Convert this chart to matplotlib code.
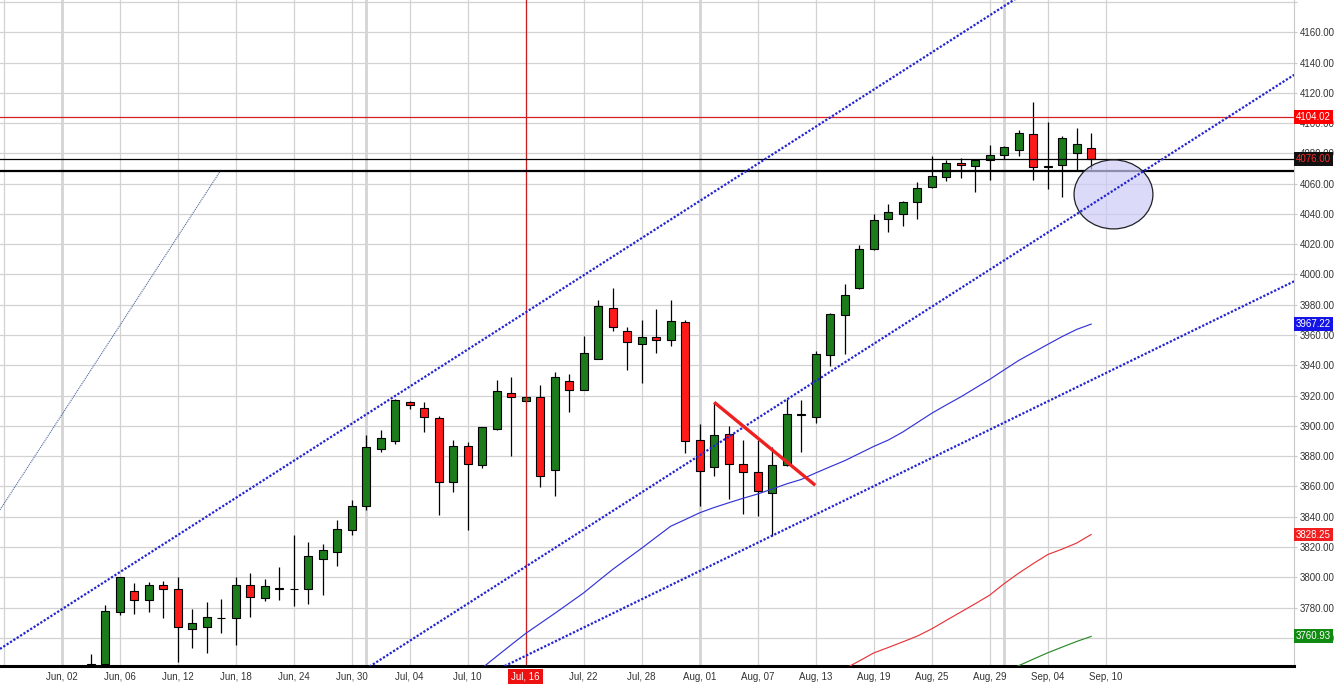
import numpy as np
import pandas as pd
import matplotlib
matplotlib.use("Agg")
import matplotlib.pyplot as plt
import matplotlib.transforms as mtransforms
from matplotlib.patches import Ellipse

plt.rcParams['font.family'] = ['Liberation Sans', 'DejaVu Sans']

# trading days on the axis (weekdays), labels every 4th day
axis_days = pd.bdate_range("2014-06-02", "2014-09-10")
candle_days = pd.bdate_range("2014-06-04", "2014-09-09")

opens = [3741, 3743, 3777, 3791, 3785, 3795, 3792, 3766, 3767, 3773, 3773, 3795, 3786, 3792.5,
         3792, 3792, 3812, 3817, 3831.5, 3847, 3885, 3890, 3915.6, 3912, 3905, 3863, 3886.6, 3874,
         3898, 3922, 3916.3, 3919, 3871, 3929.5, 3924, 3944.5, 3977.7, 3962.5, 3954, 3958.5, 3957,
         3968.5, 3890.5, 3872.7, 3894.5, 3874.7, 3869.4, 3855.5, 3874, 3907.2, 3905.7, 3946.7, 3973,
         3991, 4016.7, 4036.5, 4039.8, 4047.7, 4057.6, 4064.2, 4073.5, 4071.5, 4075.5, 4078.8, 4082,
         4092.6, 4071, 4072.2, 4080, 4083.4]
highs = [3749, 3782, 3800.5, 3796, 3797, 3797.5, 3800, 3779, 3784, 3785.5, 3800, 3803, 3799, 3806.6,
         3828, 3823.5, 3822, 3838, 3851, 3894, 3897, 3918, 3916.5, 3916, 3906.5, 3890.5, 3889.4, 3899.5,
         3930, 3932.5, 3919.5, 3927, 3935.5, 3934, 3959.5, 3983, 3991, 3965.6, 3970, 3977, 3983,
         3970, 3901, 3915.6, 3900, 3891, 3890.5, 3886, 3917.6, 3917, 3949.3, 3974.4, 3994,
         4019.5, 4039.8, 4046.6, 4048.6, 4061, 4078, 4075.5, 4076.8, 4076, 4085.4, 4084.7, 4095.3,
         4113.8, 4100.6, 4091.3, 4096.6, 4093.3]
lows = [3738, 3741, 3775, 3776, 3777, 3773, 3744, 3753, 3750, 3763, 3755, 3774, 3784.5, 3785,
        3781, 3782.5, 3788, 3807.5, 3828, 3844.5, 3883, 3888, 3911, 3896, 3841, 3856.5, 3831.5, 3872,
        3897.5, 3880, 3916, 3859.5, 3854, 3909, 3923.5, 3944, 3963, 3937, 3928.6, 3948.4, 3953,
        3882, 3847, 3867, 3851.5, 3842, 3840.7, 3827, 3873.5, 3883, 3902, 3939.4, 3947.3,
        3990.5, 4016, 4028.3, 4032.3, 4036.5, 4057, 4061.6, 4063.6, 4054.3, 4062.2, 4076, 4078,
        4062.2, 4056.3, 4051.4, 4068.2, 4070]
closes = [3743, 3778, 3800, 3785, 3795, 3792, 3767, 3770, 3774, 3773.3, 3795, 3787, 3794, 3792.7,
          3792.2, 3814, 3818, 3832, 3847, 3886, 3892, 3917, 3913.6, 3906, 3863, 3887, 3874.7, 3899,
          3923, 3919, 3919, 3867, 3932, 3923.5, 3948, 3979, 3965, 3955.6, 3958.5, 3956.6, 3969,
          3890, 3870, 3894, 3874.7, 3869.4, 3856.8, 3874, 3908, 3907.6, 3947.3, 3973.7, 3986.3,
          4016.7, 4035.8, 4041, 4047.7, 4057, 4064.9, 4073.5, 4072.2, 4075.5, 4078.8, 4084, 4093.3,
          4070.8, 4071.4, 4090, 4086, 4076.0]

# moving averages
ma_blue_days = pd.bdate_range("2014-07-10", "2014-09-09")
ma_blue = [3733, 3740.1, 3747.8, 3755.4, 3762.9, 3769.5, 3776.1, 3782.9, 3789.7, 3797.5, 3805.2,
           3812.2, 3819.2, 3826.5, 3833.7, 3838.1, 3842.6, 3846.1, 3849.2, 3852.2, 3855, 3858.3,
           3861.7, 3864.6, 3868.9, 3873, 3877, 3881.7, 3886.4, 3890.6, 3895.9, 3902.1, 3908.3,
           3913.8, 3919.1, 3924.9, 3930.7, 3937, 3943.2, 3948.5, 3953.8, 3959, 3963.7, 3967.22]
ma_red_days = pd.bdate_range("2014-08-15", "2014-09-09")
ma_red = [3739.5, 3744.7, 3750, 3753.6, 3757.3, 3761.1, 3765.9, 3771.5, 3777, 3782.5, 3788.2,
          3795.8, 3802.7, 3809, 3815, 3818.6, 3822.6, 3828.25]
ma_green_days = pd.bdate_range("2014-09-01", "2014-09-09")
ma_green = [3737.5, 3741.6, 3745.9, 3750.1, 3753.9, 3757.6, 3760.93]

# drawn lines: (day index, price) end points
channel_upper = [(-4.26, 3752.7), (66.0, 4183.4)]
channel_mid = [(21.0, 3739.6), (85.0, 4131.9)]
channel_low = [(30.3, 3740.2), (85.0, 3995.5)]
thin_trend = [(-4.26, 3844.5), (10.93, 4068.2)]
red_trend = [(45.0, 3915.6), (51.97, 3860.8)]
level_cross = 4104.02
level_close = 4076.00
level_support = 4068.2
cross_day = "2014-07-16"

pos = {d: i for i, d in enumerate(axis_days)}
def days_to_x(days):
    return np.array([pos[d] for d in days], dtype=float)

fig = plt.figure(figsize=(13.37, 6.98), dpi=100)
ax = fig.add_axes([0, 1 - 666 / 698, 1294 / 1337, 666 / 698])
ax.set_xlim(-4.255, 84.99)
ax.set_ylim(3741.4, 4181.3)

# grid
ax.set_axisbelow(True)
xt = list(range(-4, 73, 4))
ax.set_xticks(xt)
ax.set_xticklabels(["" if t < 0 else axis_days[t].strftime("%b, %d") for t in xt])
yt = list(range(3760, 4181, 20))
ax.set_yticks(yt)
ax.set_yticklabels(["" if v > 4160 else f"{v:.2f}" for v in yt])
ax.grid(True, color="#d2d2d2", lw=0.9)
for d in ["2014-06-02", "2014-07-01", "2014-08-01", "2014-09-01"]:
    ax.axvline(pos[pd.Timestamp(d)], color="#d4d4d4", lw=2.0, zorder=0.6)

ax.yaxis.tick_right()
ax.tick_params(axis="y", length=2.5, color="#c8c8c8", pad=1.5, labelsize=7, labelcolor="#333333")
ax.tick_params(axis="x", length=0, pad=4, labelsize=7, labelcolor="#333333")
for s in ["top", "left"]:
    ax.spines[s].set_visible(False)
ax.spines["right"].set_color("#c8c8c8")
ax.spines["bottom"].set_color("black")
ax.spines["bottom"].set_linewidth(2.2)

# candles
cx = days_to_x(candle_days)
o = np.array(opens); h = np.array(highs); l = np.array(lows); c = np.array(closes)
up = c >= o
ax.vlines(cx, l, h, color="black", lw=0.9, zorder=2)
body_bottom = np.minimum(o, c)
body_h = np.maximum(np.abs(c - o), 0.25)
ax.bar(cx, body_h, bottom=body_bottom, width=0.56,
       color=np.where(up, "#1c7c1c", "#ff1a1a"), edgecolor="black", lw=0.8, zorder=2.2)

# horizontal / vertical levels
ax.axhline(level_cross, color="#d42020", lw=0.9, zorder=2.5)
ax.axvline(pos[pd.Timestamp(cross_day)], color="#c42020", lw=0.9, zorder=2.5)
ax.axhline(level_close, color="black", lw=0.9, zorder=2.5)
ax.axhline(level_support, color="black", lw=1.6, zorder=2.5)

# ellipse marker
ax.add_patch(Ellipse((72.54, 4052.9), 5.44, 45.6, fc=(0.80, 0.80, 0.97, 0.7),
                     ec="#202028", lw=0.9, zorder=2.6))

# channel lines
for seg in [channel_upper, channel_mid, channel_low]:
    xs, ys = zip(*seg)
    ax.plot(xs, ys, color="#2424d0", lw=1.6, ls=(0, (1, 0.8)), zorder=3)
xs, ys = zip(*thin_trend)
ax.plot(xs, ys, color="#4d6a9c", lw=0.8, ls=(0, (1, 0.8)), zorder=3)

# moving averages
ax.plot(days_to_x(ma_blue_days), ma_blue, color="#3434d8", lw=0.85, zorder=3)
ax.plot(days_to_x(ma_red_days), ma_red, color="#e8343a", lw=0.85, zorder=3)
ax.plot(days_to_x(ma_green_days), ma_green, color="#2a8a2a", lw=0.85, zorder=3)

xs, ys = zip(*red_trend)
ax.plot(xs, ys, color="#ee2020", lw=2.4, solid_capstyle="butt", zorder=3.5)

# price tags on the right axis
trans = mtransforms.blended_transform_factory(ax.transAxes, ax.transData)
tags = [(level_cross, "red", "white"), (level_close, "#111111", "#ff2a2a"),
        (ma_blue[-1], "#1414e6", "white"), (ma_red[-1], "#f01e1e", "white"),
        (ma_green[-1], "#108a10", "white")]
for val, bg, fg in tags:
    ax.text(1.0015, val, f"{val:.2f}", transform=trans, ha="left", va="center", fontsize=7,
            color=fg, clip_on=False, zorder=6,
            bbox=dict(boxstyle="square,pad=0.2", fc=bg, ec="none"))

# highlight the crosshair date label
for lbl, t in zip(ax.get_xticklabels(), xt):
    if t == pos[pd.Timestamp(cross_day)]:
        lbl.set_color("white")
        lbl.set_bbox(dict(boxstyle="square,pad=0.3", fc="#ee1111", ec="none"))

fig.savefig("out.png", dpi=100)
